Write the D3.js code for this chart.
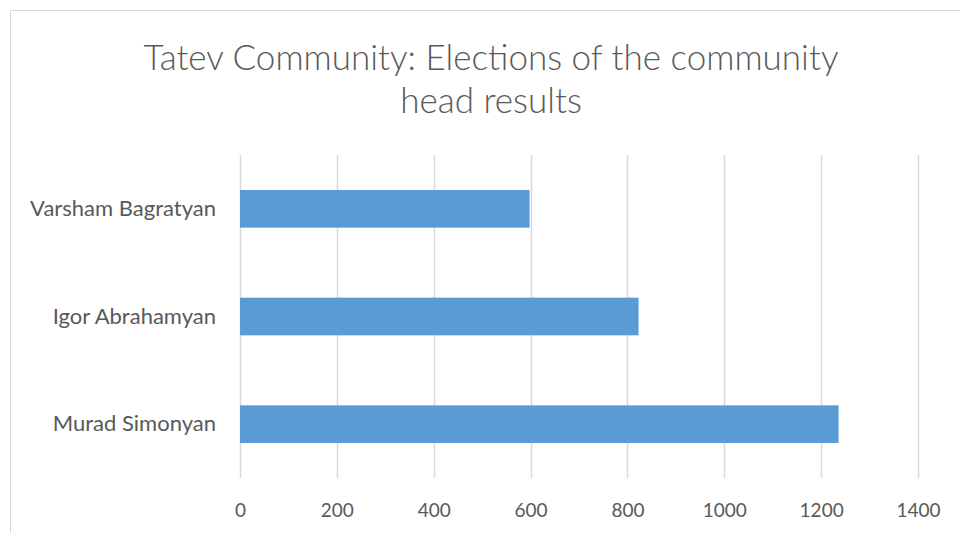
<!DOCTYPE html>
<html>
<head>
<meta charset="utf-8">
<script src="https://cdn.jsdelivr.net/npm/d3@7"></script>
<style>
  html, body { margin: 0; padding: 0; background: #fff; }
  svg { display: block; }
</style>
</head>
<body>
<svg id="chart" width="960" height="533"></svg>
<script>
// Candidates (top to bottom) and their vote counts
const candidates = ["Varsham Bagratyan", "Igor Abrahamyan", "Murad Simonyan"];
const votes = [598, 823, 1236];
const xTicks = [0, 200, 400, 600, 800, 1000, 1200, 1400];
const titleLines = ["Tatev Community: Elections of the community", "head results"];

const svg = d3.select("#chart");
const W = 960, H = 533;
const font = "Lato, 'Open Sans', sans-serif";
const textColor = "#595959";

// chart frame
svg.append("rect")
  .attr("x", 10.5).attr("y", 10.5)
  .attr("width", W + 10).attr("height", H + 10)
  .attr("fill", "#fff").attr("stroke", "#d9d9d9").attr("stroke-width", 1);

const plot = { left: 240, right: 918, top: 155, bottom: 478 };

const x = d3.scaleLinear().domain([0, 1400]).range([plot.left, plot.right]);
const y = d3.scaleBand().domain(candidates).range([plot.top, plot.bottom])
  .paddingInner(0.65).paddingOuter(0.325);

// vertical gridlines
svg.append("g").selectAll("line").data(xTicks).join("line")
  .attr("x1", d => Math.round(x(d)) + 0.5).attr("x2", d => Math.round(x(d)) + 0.5)
  .attr("y1", plot.top).attr("y2", plot.bottom)
  .attr("stroke", "#d9d9d9").attr("stroke-width", 1.5);

// bars
svg.append("g").selectAll("rect").data(candidates).join("rect")
  .attr("x", x(0))
  .attr("y", d => y(d))
  .attr("width", (d, i) => x(votes[i]) - x(0))
  .attr("height", y.bandwidth())
  .attr("fill", "#5b9bd5");

// x axis labels
const xAxis = d3.axisBottom(x).tickValues(xTicks).tickFormat(d3.format("d"))
  .tickSize(0).tickPadding(0);
const gx = svg.append("g").attr("transform", `translate(0,${plot.bottom + 22})`).call(xAxis);
gx.select(".domain").remove();
gx.selectAll("text")
  .attr("font-family", font).attr("font-size", 19).attr("fill", textColor)
  .attr("dy", "0.9em");

// category labels
const yAxis = d3.axisLeft(y).tickSize(0).tickPadding(24);
const gy = svg.append("g").attr("transform", `translate(${plot.left},0)`).call(yAxis);
gy.select(".domain").remove();
gy.selectAll("text")
  .attr("font-family", font).attr("font-size", 22).attr("fill", textColor);

// title
svg.append("g").selectAll("text").data(titleLines).join("text")
  .attr("x", 491).attr("y", (d, i) => 70 + i * 43)
  .attr("text-anchor", "middle")
  .attr("font-family", font).attr("font-weight", 300)
  .attr("font-size", 35).attr("fill", textColor)
  .text(d => d);
</script>
</body>
</html>
